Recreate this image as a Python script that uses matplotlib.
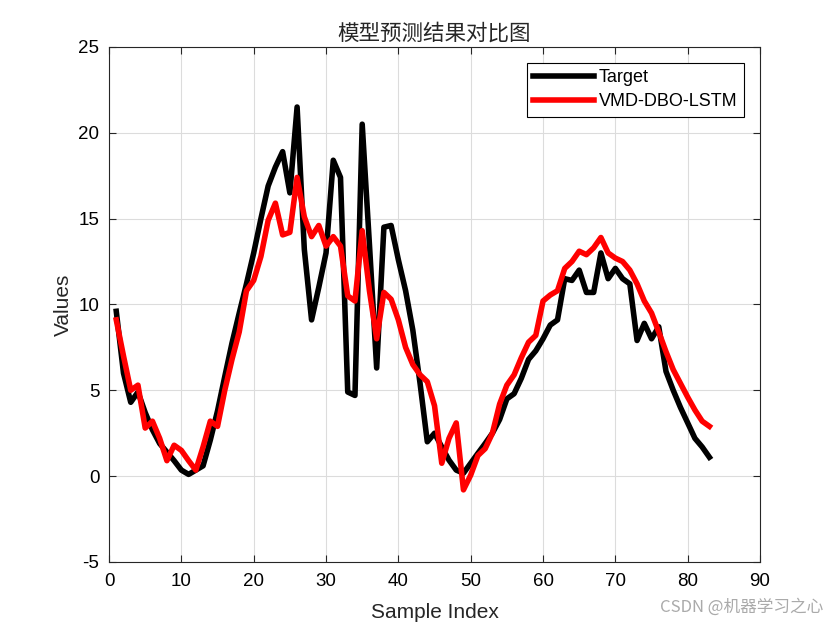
import matplotlib
matplotlib.use('Agg')
import matplotlib.pyplot as plt
import numpy as np

# values
target = [9.6, 6.0, 4.3, 4.9, 3.7, 2.7, 1.9, 1.4, 0.9, 0.35,
          0.1, 0.35, 0.6, 2.1, 3.8, 5.8, 7.75, 9.5, 11.2, 13.0,
          15.0, 16.9, 18.0, 18.9, 16.5, 21.5, 13.2, 9.1, 11.0, 13.0,
          18.4, 17.4, 4.9, 4.7, 20.5, 13.5, 6.3, 14.5, 14.6, 12.6,
          10.8, 8.5, 5.4, 2.0, 2.5, 1.7, 0.93, 0.35, 0.17, 0.75,
          1.33, 1.9, 2.5, 3.3, 4.5, 4.8, 5.7, 6.8, 7.3, 8.0,
          8.8, 9.1, 11.5, 11.4, 12.0, 10.7, 10.7, 13.0, 11.5, 12.1,
          11.5, 11.2, 7.9, 8.9, 8.0, 8.7, 6.1, 5.0, 4.0, 3.1,
          2.2, 1.7, 1.1]
pred = [9.1, 7.0, 5.0, 5.3, 2.8, 3.2, 2.2, 0.9, 1.8, 1.5,
        0.9, 0.35, 1.7, 3.2, 2.9, 5.0, 6.8, 8.4, 10.8, 11.4,
        12.8, 14.9, 15.9, 14.05, 14.2, 17.4, 15.1, 13.95, 14.6, 13.4,
        13.95, 13.4, 10.5, 10.2, 14.3, 10.8, 8.0, 10.7, 10.3, 9.1,
        7.5, 6.5, 5.9, 5.5, 4.1, 0.75, 2.2, 3.1, -0.8, 0.06,
        1.2, 1.6, 2.5, 4.2, 5.3, 5.9, 6.9, 7.8, 8.2, 10.2,
        10.55, 10.8, 12.1, 12.5, 13.1, 12.9, 13.3, 13.9, 13.0, 12.7,
        12.5, 12.0, 11.2, 10.2, 9.5, 8.4, 7.25, 6.2, 5.4, 4.6,
        3.85, 3.2, 2.9]
x = np.arange(1, len(target) + 1)

plt.rcParams['font.family'] = ['Liberation Sans', 'Noto Sans CJK SC', 'DejaVu Sans']
plt.rcParams['axes.unicode_minus'] = False

fig = plt.figure(figsize=(8.4, 6.3), dpi=100)
ax = fig.add_axes([0.1298, 0.108, 0.775, 0.8175])

ax.plot(x, target, color='black', lw=4, label='Target')
ax.plot(x, pred, color='red', lw=4, label='VMD-DBO-LSTM')

ax.set_xlim(0, 90)
ax.set_ylim(-5, 25)
ax.set_xticks(np.arange(0, 91, 10))
ax.set_yticks(np.arange(-5, 26, 5))
ax.tick_params(direction='in', labelsize=13.5, length=5, top=True, right=True,
               labeltop=False, labelright=False, color='#262626')
ax.tick_params(axis='x', pad=8)
ax.tick_params(axis='y', pad=7)
ax.grid(True, color='#dcdcdc', lw=0.8)
ax.set_axisbelow(True)
for s in ax.spines.values():
    s.set_color('#262626')
    s.set_linewidth(0.8)

ax.set_xlabel('Sample Index', fontsize=15, color='#262626', labelpad=9)
ax.set_ylabel('Values', fontsize=15, color='#262626', labelpad=4)
ax.set_title('模型预测结果对比图', fontsize=15.5, family=['Noto Sans CJK SC', 'DejaVu Sans'],
             color='#262626', pad=5)

leg = ax.legend(loc='upper right', bbox_to_anchor=(0.975, 0.969), fontsize=13,
                fancybox=False, edgecolor='black', framealpha=1, handlelength=3.4,
                borderpad=0.35, labelspacing=0.4, handletextpad=0.25, borderaxespad=0)
leg.get_frame().set_linewidth(0.8)

fig.text(0.98, 0.022, 'CSDN @机器学习之心', ha='right', va='bottom', fontsize=12,
         color='#aaaaaa', family=['Noto Sans CJK SC', 'DejaVu Sans'])

fig.savefig('out.png', dpi=100)
